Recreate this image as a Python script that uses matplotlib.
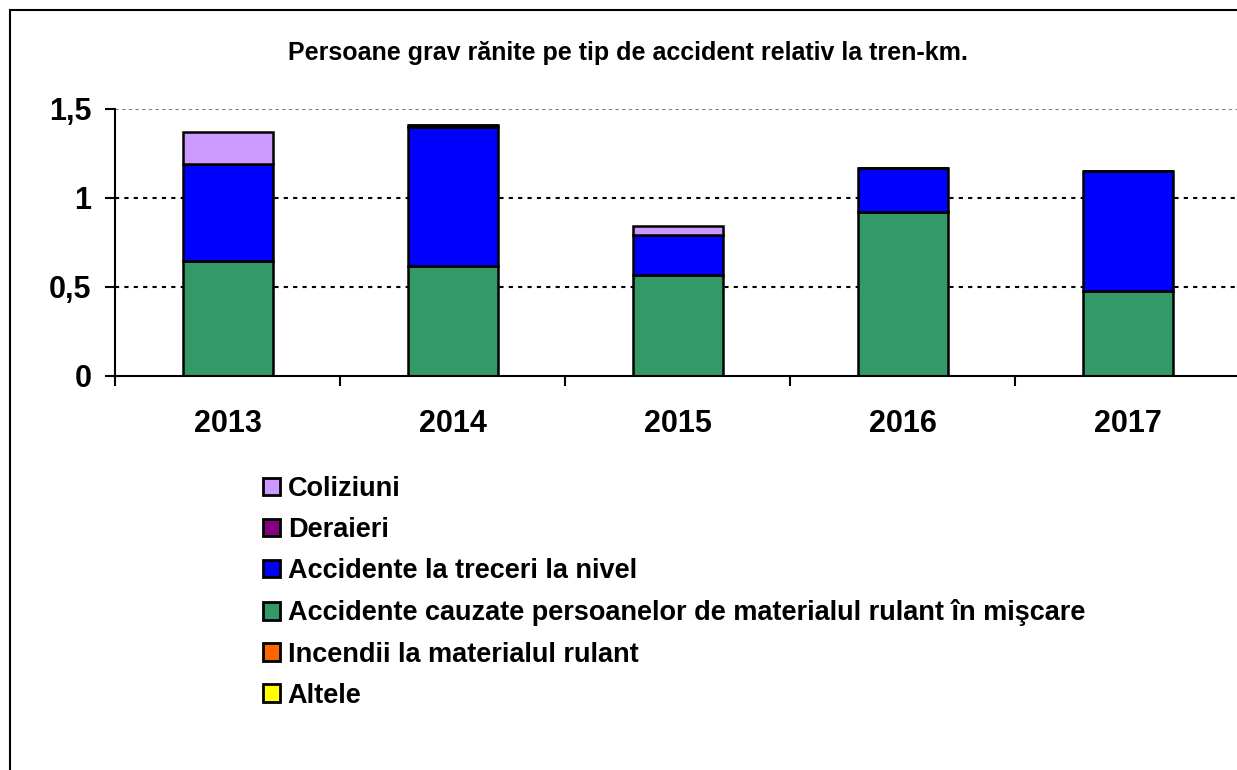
import numpy as np
import matplotlib.pyplot as plt
from matplotlib.patches import Rectangle, Patch

plt.rcParams['font.family'] = ['Liberation Sans', 'DejaVu Sans']

# date
ani = ['2013', '2014', '2015', '2016', '2017']
altele = [0, 0, 0, 0, 0]
incendii = [0, 0, 0, 0, 0]
cauzate = [0.646, 0.62, 0.57, 0.92, 0.48]
treceri = [0.544, 0.78, 0.22, 0.25, 0.67]
deraieri = [0, 0.012, 0, 0, 0]
coliziuni = [0.18, 0, 0.05, 0, 0]

serii = [
    ('Altele', altele, '#FFFF00'),
    ('Incendii la materialul rulant', incendii, '#FF6600'),
    ('Accidente cauzate persoanelor de materialul rulant în mişcare', cauzate, '#339966'),
    ('Accidente la treceri la nivel', treceri, '#0000FF'),
    ('Deraieri', deraieri, '#800080'),
    ('Coliziuni', coliziuni, '#CC99FF'),
]

fig = plt.figure(figsize=(12.37, 7.70), dpi=100)
W, H = 1237, 770
ax = fig.add_axes([115 / W, 1 - 376 / H, 1125 / W, 267 / H])

x = np.arange(len(ani))
baza = np.zeros(len(ani))
handles = []
for nume, val, cul in serii:
    val = np.array(val, dtype=float)
    ax.bar(x, val, width=0.4, bottom=baza, color=cul, edgecolor='black', linewidth=1.8, zorder=3)
    baza += val
    handles.append(Patch(facecolor=cul, edgecolor='black', linewidth=2, label=nume))

# linii de grila
ax.axhline(1.5, color='#808080', linestyle=(0, (3, 3)), linewidth=0.8, zorder=1)
for yv in [0.5, 1.0]:
    ax.axhline(yv, color='black', linestyle=(0, (2, 2.5)), linewidth=1.5, zorder=1)

ax.set_xlim(-0.5, 4.5)
ax.set_ylim(0, 1.5)
ax.set_yticks([0, 0.5, 1, 1.5])
ax.set_yticklabels(['0', '0,5', '1', '1,5'], fontsize=22, fontweight='bold')
ax.set_xticks(x)
ax.set_xticklabels(ani, fontsize=22, fontweight='bold')
ax.set_xticks(np.arange(-0.5, 5, 1), minor=True)
ax.tick_params(axis='x', which='major', length=0, pad=24)
ax.tick_params(axis='x', which='minor', length=7, width=1.5, direction='out')
ax.tick_params(axis='y', length=7, width=1.5, direction='out', pad=10)

for s in ['top', 'right']:
    ax.spines[s].set_visible(False)
for s in ['left', 'bottom']:
    ax.spines[s].set_linewidth(1.5)
ax.spines['bottom'].set_zorder(4)

fig.text(628 / W, 1 - 53 / H, 'Persoane grav rănite pe tip de accident relativ la tren-km.',
         ha='center', va='center', fontsize=18, fontweight='bold')

fig.legend(handles=handles[::-1], loc='upper left', bbox_to_anchor=(252 / W, 1 - 465 / H),
           frameon=False, handlelength=0.62, handleheight=0.62, handletextpad=0.3,
           labelspacing=0.56, prop={'weight': 'bold', 'size': 19.5}, borderaxespad=0)

# chenarul graficului
fig.patches.append(Rectangle((10 / W, -0.1), 1.2, 1 - 10 / H + 0.1, transform=fig.transFigure,
                             fill=False, edgecolor='black', linewidth=1.5))

fig.savefig('out.png', dpi=100)
